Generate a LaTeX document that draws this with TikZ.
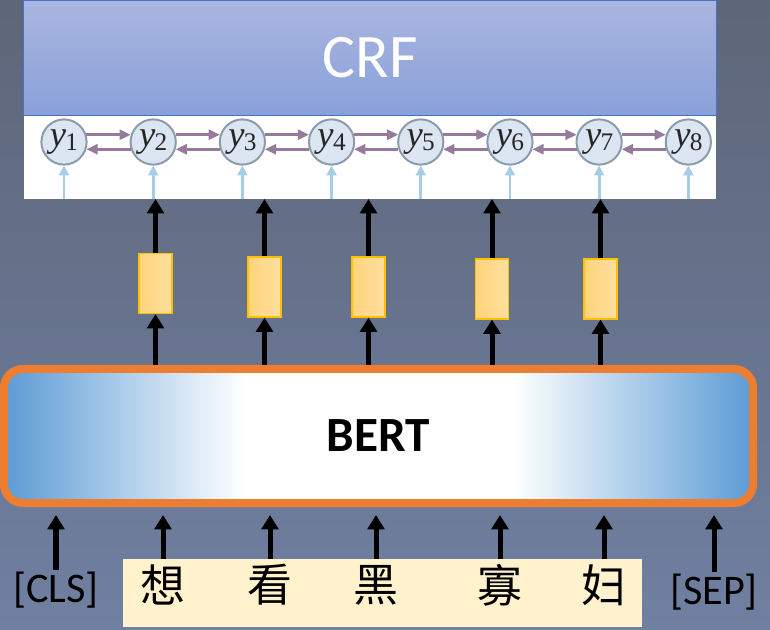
\documentclass[tikz,border=0pt]{standalone}
\usepackage{fontspec}
\newfontfamily\calibri{Carlito}
\newfontfamily\cjk{Noto Sans CJK SC}
\newfontfamily\timesx{Liberation Serif}
\usepackage{tikz}
\usetikzlibrary{positioning,chains,arrows.meta}
\definecolor{bgtop}{RGB}{94,102,120}
\definecolor{bgbot}{RGB}{112,128,162}
\definecolor{crftop}{RGB}{170,182,224}
\definecolor{crfbot}{RGB}{137,160,217}
\definecolor{crfline}{RGB}{68,114,196}
\definecolor{ynode}{RGB}{220,230,242}
\definecolor{yline}{RGB}{140,155,170}
\definecolor{transarr}{RGB}{150,122,155}
\definecolor{emitarr}{RGB}{165,205,232}
\definecolor{boxl}{RGB}{255,212,122}
\definecolor{boxr}{RGB}{255,222,160}
\definecolor{boxline}{RGB}{255,192,0}
\definecolor{bertblue}{RGB}{91,155,213}
\definecolor{bertline}{RGB}{237,125,49}
\definecolor{cream}{RGB}{255,242,204}
\pgfdeclarehorizontalshading{bertshade}{100bp}{color(0bp)=(bertblue); color(25bp)=(bertblue); color(41bp)=(white); color(59bp)=(white); color(75bp)=(bertblue); color(100bp)=(bertblue)}
\newcommand{\ylab}[1]{{\timesx\itshape y}\kern-0.5pt{\timesx\fontsize{18}{18}\selectfont\raisebox{-0.35ex}{#1}}}
\tikzset{%
	ycell/.style={%
		circle,
		draw=yline,
		line width=1.4pt,
		fill=ynode,
		minimum size=1.13cm,
		inner sep=0pt,
		text=black!85,
		font=\fontsize{26}{26}\selectfont
	},
	hbox/.style={%
		draw=boxline,
		line width=0.8pt,
		left color=boxl,
		right color=boxr,
		minimum width=0.825cm,
		minimum height=1.5cm,
		inner sep=0pt
	},
	uparrow/.style={line width=0.125cm, -{Triangle[width=0.42cm,length=0.36cm]}},
	trans/.style={draw=transarr, line width=2pt, -{Triangle[width=7pt,length=8pt]}},
	emit/.style={draw=emitarr, line width=2pt, -{Triangle[width=7pt,length=7pt]}},
	token/.style={inner sep=1pt, font=\calibri\fontsize{30}{30}\selectfont},
	ctoken/.style={inner sep=1pt, font=\cjk\fontsize{32}{32}\selectfont}
}
\begin{document}
\begin{tikzpicture}[x=0.025cm, y=-0.025cm, start chain=going right, node distance=1.05cm, every on chain/.style={ycell}]
        \useasboundingbox (0,0) rectangle (770,630);
        \fill[top color=bgtop, bottom color=bgbot] (0,0) rectangle (770,630);
        \node[draw=crfline, line width=0.6pt, top color=crftop, bottom color=crfbot, minimum width=17.3cm, minimum height=2.875cm, text=white, font=\calibri\fontsize{44}{44}\selectfont] (crf) at (370,57.5) {CRF};
        \node[fill=white, minimum width=17.3cm, minimum height=2.075cm, inner sep=0pt, below=0pt of crf] (crfpanel) {};
        \node [on chain] (y1) at (64,142) {\ylab{1}};
        \node [on chain] (y2) {\ylab{2}};
        \node [on chain] (y3) {\ylab{3}};
        \node [on chain] (y4) {\ylab{4}};
        \node [on chain] (y5) {\ylab{5}};
        \node [on chain] (y6) {\ylab{6}};
        \node [on chain] (y7) {\ylab{7}};
        \node [on chain] (y8) {\ylab{8}};
        \draw[trans] (y1.18) -- (y2.162);
        \draw[trans] (y2.198) -- (y1.342);
        \draw[trans] (y2.18) -- (y3.162);
        \draw[trans] (y3.198) -- (y2.342);
        \draw[trans] (y3.18) -- (y4.162);
        \draw[trans] (y4.198) -- (y3.342);
        \draw[trans] (y4.18) -- (y5.162);
        \draw[trans] (y5.198) -- (y4.342);
        \draw[trans] (y5.18) -- (y6.162);
        \draw[trans] (y6.198) -- (y5.342);
        \draw[trans] (y6.18) -- (y7.162);
        \draw[trans] (y7.198) -- (y6.342);
        \draw[trans] (y7.18) -- (y8.162);
        \draw[trans] (y8.198) -- (y7.342);
        \draw[emit] (y1.south |- crfpanel.south) -- (y1.south);
        \draw[emit] (y2.south |- crfpanel.south) -- (y2.south);
        \draw[emit] (y3.south |- crfpanel.south) -- (y3.south);
        \draw[emit] (y4.south |- crfpanel.south) -- (y4.south);
        \draw[emit] (y5.south |- crfpanel.south) -- (y5.south);
        \draw[emit] (y6.south |- crfpanel.south) -- (y6.south);
        \draw[emit] (y7.south |- crfpanel.south) -- (y7.south);
        \draw[emit] (y8.south |- crfpanel.south) -- (y8.south);
        \node[hbox] (h1) at (155.5,283.5) {};
        \node[hbox] (h2) at (264.5,287) {};
        \node[hbox] (h3) at (368.5,287) {};
        \node[hbox] (h4) at (492,289) {};
        \node[hbox] (h5) at (600.5,289) {};
        \node[draw=bertline, line width=0.2cm, rounded corners=0.475cm, shade, shading=bertshade, minimum width=18.725cm, minimum height=3.35cm, font=\calibri\bfseries\fontsize{35}{35}\selectfont] (bert) at (378.5,436) {BERT};
        \draw[uparrow] (h1.north) -- (h1.north |- crfpanel.south);
        \draw[uparrow] (h2.north) -- (h2.north |- crfpanel.south);
        \draw[uparrow] (h3.north) -- (h3.north |- crfpanel.south);
        \draw[uparrow] (h4.north) -- (h4.north |- crfpanel.south);
        \draw[uparrow] (h5.north) -- (h5.north |- crfpanel.south);
        \draw[uparrow] (h1.south |- bert.north) -- (h1.south);
        \draw[uparrow] (h2.south |- bert.north) -- (h2.south);
        \draw[uparrow] (h3.south |- bert.north) -- (h3.south);
        \draw[uparrow] (h4.south |- bert.north) -- (h4.south);
        \draw[uparrow] (h5.south |- bert.north) -- (h5.south);
        \node[fill=cream, minimum width=12.975cm, minimum height=1.7cm, inner sep=0pt] (sent) at (382.5,593) {};
        \node[token] (cls) at (56,590) {[CLS]};
        \node[ctoken] (t1) at (163,585) {想};
        \node[ctoken] (t2) at (270,585) {看};
        \node[ctoken] (t3) at (376,585) {黑};
        \node[ctoken] (t4) at (500,585) {寡};
        \node[ctoken] (t5) at (604,585) {妇};
        \node[token] (sep) at (714,592) {[SEP]};
        \draw[uparrow, shorten >=0.2cm] (cls.north) -- (cls.north |- bert.south);
        \draw[uparrow, shorten >=0.2cm] (t1.north |- sent.north) -- (t1.north |- bert.south);
        \draw[uparrow, shorten >=0.2cm] (t2.north |- sent.north) -- (t2.north |- bert.south);
        \draw[uparrow, shorten >=0.2cm] (t3.north |- sent.north) -- (t3.north |- bert.south);
        \draw[uparrow, shorten >=0.2cm] (t4.north |- sent.north) -- (t4.north |- bert.south);
        \draw[uparrow, shorten >=0.2cm] (t5.north |- sent.north) -- (t5.north |- bert.south);
        \draw[uparrow, shorten >=0.2cm] (sep.north) -- (sep.north |- bert.south);
    \end{tikzpicture}
\end{document}
